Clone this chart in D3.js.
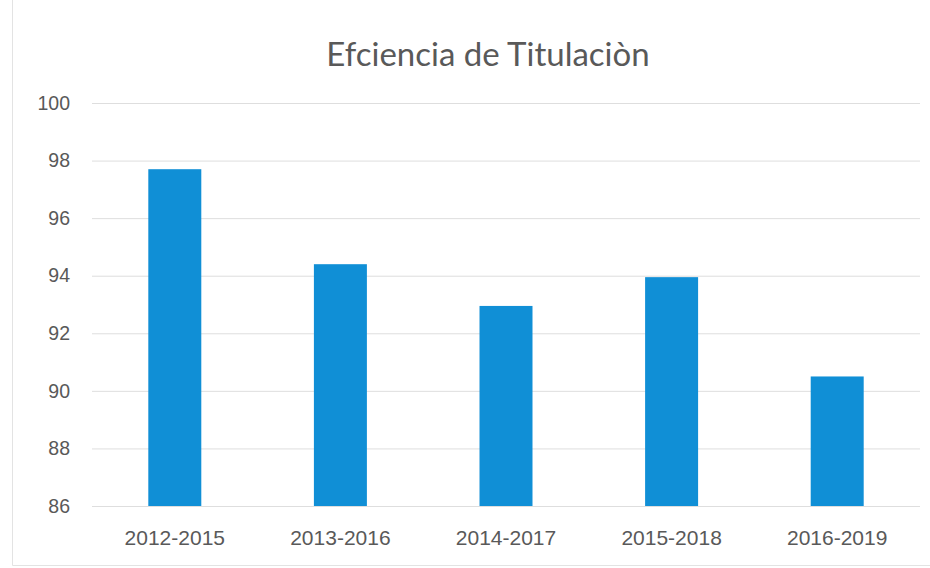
<!DOCTYPE html>
<html>
<head>
<meta charset="utf-8">
<script src="https://cdn.jsdelivr.net/npm/d3@7"></script>
<style>
  body { margin: 0; background: #fff; }
  svg { display: block; font-family: Lato, "Open Sans", sans-serif; }
</style>
</head>
<body>
<svg id="chart" width="930" height="568"></svg>
<script>
// Chart data
const periods = ["2012-2015", "2013-2016", "2014-2017", "2015-2018", "2016-2019"];
const efficiency = [97.7, 94.4, 92.95, 93.95, 90.5];
const yTicks = [86, 88, 90, 92, 94, 96, 98, 100];
const title = "Efciencia de Titulaciòn";

const svg = d3.select("#chart");
const plot = {left: 92, right: 920, top: 103, bottom: 506};

// chart frame (only left and bottom edges are visible in the photo)
svg.append("path")
  .attr("d", "M12.5,0 V565.5 H930")
  .attr("fill", "none")
  .attr("stroke", "#e3e3e3");

let x = d3.scaleBand()
  .domain(periods)
  .range([plot.left, plot.right])
  .paddingInner(0.68)
  .paddingOuter(0.34);

let y = d3.scaleLinear()
  .domain([86, 100])
  .range([plot.bottom, plot.top]);

// gridlines
svg.append("g")
  .attr("transform", `translate(${plot.left},0)`)
  .call(d3.axisLeft(y).tickValues(yTicks).tickSize(-(plot.right - plot.left)).tickFormat(""))
  .call(g => g.select(".domain").remove())
  .call(g => g.selectAll("line").attr("stroke", "#dedede"));

// y labels
svg.append("g")
  .attr("transform", `translate(${plot.left},0)`)
  .call(d3.axisLeft(y).tickValues(yTicks).tickSize(0).tickPadding(22))
  .call(g => g.select(".domain").remove())
  .call(g => g.selectAll("text")
    .attr("fill", "#595959")
    .style("font-size", "19.5px"));

// bars
svg.append("g").selectAll("rect")
  .data(efficiency).enter()
  .append("rect")
  .attr("x", (d, i) => x(periods[i]))
  .attr("width", x.bandwidth())
  .attr("y", d => y(d))
  .attr("height", d => y(86) - y(d))
  .attr("fill", "#108fd6");

// x labels
svg.append("g")
  .attr("transform", `translate(0,${plot.bottom})`)
  .call(d3.axisBottom(x).tickSize(0).tickPadding(24))
  .call(g => g.select(".domain").remove())
  .call(g => g.selectAll("text")
    .attr("fill", "#595959")
    .style("font-size", "21px"));

// title
svg.append("text")
  .attr("x", 488)
  .attr("y", 66)
  .attr("text-anchor", "middle")
  .attr("fill", "#595959")
  .style("font-size", "33px")
  .text(title);
</script>
</body>
</html>
